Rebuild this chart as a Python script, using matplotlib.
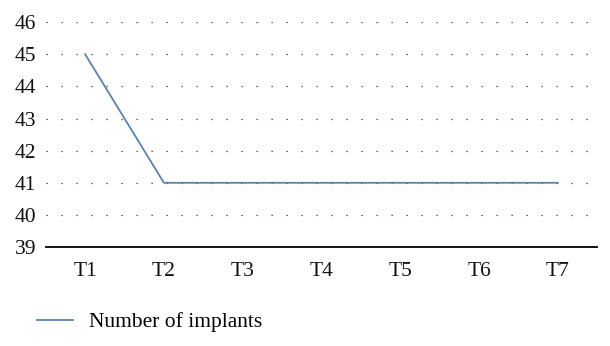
import matplotlib.pyplot as plt

plt.rcParams["font.family"] = ["Liberation Serif", "DejaVu Serif"]

times = ["T1", "T2", "T3", "T4", "T5", "T6", "T7"]
implants = [45, 41, 41, 41, 41, 41, 41]

fig = plt.figure(figsize=(6.1, 3.46), dpi=100)
ax = fig.add_axes([0.075, 0.286, 0.904, 0.65])

x = range(len(times))
ax.plot(x, implants, color="#5b82ad", linewidth=1.3, label="Number of implants")

ax.set_xlim(-0.5, len(times) - 0.5)
ax.set_ylim(39, 46)
ax.set_yticks(range(39, 47))
ax.set_xticks(list(x))
ax.set_xticklabels(times)

ax.grid(axis="y", color="#333333", linestyle=(0, (1, 11)), linewidth=0.9)
ax.set_axisbelow(True)

for side in ["left", "right", "top"]:
    ax.spines[side].set_visible(False)
ax.spines["bottom"].set_linewidth(1.3)
ax.tick_params(axis="both", length=0, labelsize=15.5, colors="#111111")
ax.tick_params(axis="x", pad=11)
ax.tick_params(axis="y", pad=7)

fig.legend(loc="center left", bbox_to_anchor=(0.061, 0.069), frameon=False,
           fontsize=15.5, handlelength=1.65, handletextpad=0.75,
           borderaxespad=0, borderpad=0, bbox_transform=fig.transFigure)

fig.savefig("out.png", dpi=100)
